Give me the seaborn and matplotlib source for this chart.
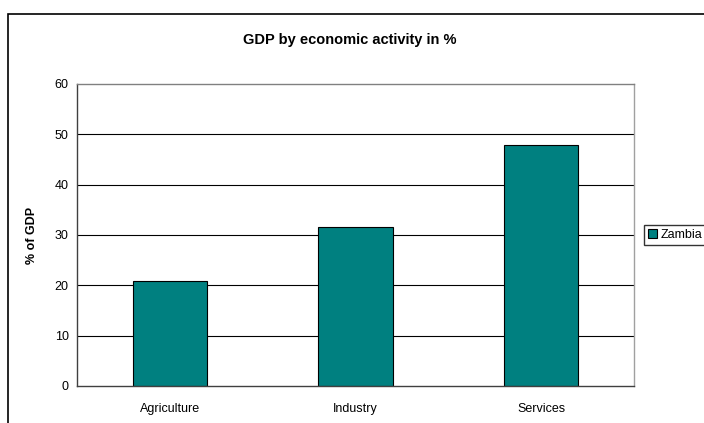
import matplotlib
matplotlib.use("Agg")
import matplotlib.pyplot as plt
import matplotlib.patches as mpatches
import seaborn as sns
import pandas as pd

sectors = ["Agriculture", "Industry", "Services"]
share = [20.8, 31.5, 47.8]
country = "Zambia"

sns.set_style("white")
plt.rcParams["font.family"] = ["Liberation Sans", "DejaVu Sans"]
plt.rcParams["text.color"] = "black"
plt.rcParams["xtick.color"] = "black"
plt.rcParams["ytick.color"] = "black"
plt.rcParams["axes.labelcolor"] = "black"

data = pd.DataFrame({"Sector": sectors, "Share": share, "Country": country})

fig = plt.figure(figsize=(7.04, 4.23), dpi=100)
ax = fig.add_axes([0.1094, 0.0875, 0.791, 0.714])

sns.barplot(data=data, x="Sector", y="Share", color="#008080", saturation=1,
            edgecolor="black", linewidth=0.8, width=0.4, ax=ax)

ax.set_ylim(0, 60)
ax.set_xlim(-0.5, 2.5)
ax.set_yticks(range(0, 61, 10))
for y in range(10, 60, 10):
    ax.axhline(y, color="black", linewidth=0.8, zorder=0)

ax.spines["top"].set_color("#808080")
ax.spines["right"].set_color("#a0a0a0")
ax.spines["left"].set_color("#404040")
ax.spines["bottom"].set_color("#404040")
for s in ax.spines.values():
    s.set_linewidth(1)

ax.set_xticks([0, 1, 2])
ax.set_xticks([-0.5, 0.5, 1.5, 2.5], minor=True)
ax.tick_params(axis="x", which="major", length=0, labelsize=9, pad=12)
ax.tick_params(axis="x", which="minor", length=4, direction="out", color="#404040")
ax.tick_params(axis="y", length=4, direction="out", labelsize=9, color="#404040", pad=2)
ax.set_xlabel("")
ax.set_ylabel("% of GDP", fontsize=9, fontweight="bold", labelpad=12)

fig.text(0.497, 0.905, "GDP by economic activity in %", ha="center", va="center",
         fontsize=10.5, fontweight="bold")

# outer chart border, clipped at right and bottom like the reference
fig.patches.append(mpatches.Rectangle((8 / 704, -0.1), 1.2, 1 - 14 / 423 + 0.1,
                                      transform=fig.transFigure, fill=False,
                                      edgecolor="black", linewidth=1.2))

handle = mpatches.Patch(facecolor="#008080", edgecolor="black", linewidth=0.8, label=country)
fig.legend(handles=[handle], loc="center left", bbox_to_anchor=(0.915, 0.444),
           fontsize=9, frameon=True, fancybox=False, edgecolor="black",
           handlelength=0.7, handleheight=0.7, handletextpad=0.3,
           borderpad=0.3, borderaxespad=0)

fig.savefig("out.png", dpi=100)
